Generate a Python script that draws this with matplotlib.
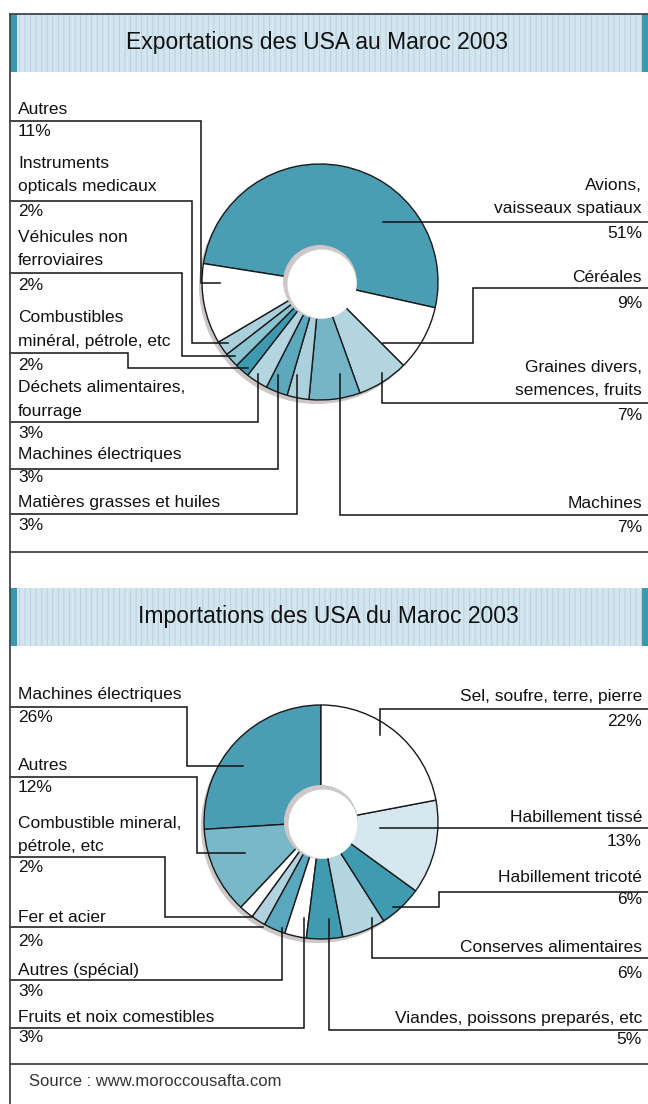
import matplotlib.pyplot as plt
from matplotlib.patches import Rectangle, Circle

plt.rcParams['font.family'] = ['Liberation Sans', 'DejaVu Sans']
plt.rcParams['hatch.linewidth'] = 0.6

# --- data -----------------------------------------------------------------
# Exportations des USA au Maroc 2003, in pie order (clockwise from the left)
exp_labels = ['Avions,\nvaisseaux spatiaux', 'Céréales', 'Graines divers,\nsemences, fruits',
              'Machines', 'Matières grasses et huiles', 'Machines électriques',
              'Déchets alimentaires,\nfourrage', 'Combustibles\nminéral, pétrole, etc',
              'Véhicules non\nferroviaires', 'Instruments\nopticals medicaux', 'Autres']
exp_values = [51, 9, 7, 7, 3, 3, 3, 2, 2, 2, 11]

# Importations des USA du Maroc 2003, in pie order (counter-clockwise from the top)
imp_labels = ['Machines électriques', 'Autres', 'Combustible mineral,\npétrole, etc',
              'Fer et acier', 'Autres (spécial)', 'Fruits et noix comestibles',
              'Viandes, poissons preparés, etc', 'Conserves alimentaires',
              'Habillement tricoté', 'Habillement tissé', 'Sel, soufre, terre, pierre']
imp_values = [26, 12, 2, 2, 3, 3, 5, 6, 6, 13, 22]

exp_title = 'Exportations des USA au Maroc 2003'
imp_title = 'Importations des USA du Maroc 2003'
source = 'Source : www.moroccousafta.com'

# --- styles / layout (pixels, y going down) ---------------------------------
W, H = 648, 1104
DARK, MED, LIGHT, PALE = '#4a9db3', '#74b5c7', '#b3d5e0', '#d6e8ef'

exp_colors = [DARK, 'white', LIGHT, MED, '#a9d0dc', '#5ca9be', LIGHT,
              '#3d99ae', '#8cc3d1', '#a9d0dc', 'white']
imp_colors = [DARK, '#79b8c9', 'white', '#b0d3df', '#5aa8bd', 'white',
              '#3f9bb0', LIGHT, '#3f9bb0', PALE, 'white']

# side, y of first text line, y of percent, leader polyline
exp_layout = [
    ('R', 185, 233, [(648, 222), (383, 222)]),
    ('R', 278, 303, [(648, 288), (473, 288), (473, 343), (383, 343)]),
    ('R', 367, 415, [(648, 403), (382, 403), (382, 373)]),
    ('R', 503, 528, [(648, 515), (340, 515), (340, 374)]),
    ('L', 503, 525, [(10, 514), (297, 514), (297, 375)]),
    ('L', 455, 478, [(10, 469), (278, 469), (278, 375)]),
    ('L', 388, 433, [(10, 422), (258, 422), (258, 374)]),
    ('L', 318, 365, [(10, 353), (128, 353), (128, 368), (248, 368)]),
    ('L', 237, 285, [(10, 273), (182, 273), (182, 356), (235, 356)]),
    ('L', 163, 212, [(10, 201), (192, 201), (192, 343), (228, 343)]),
    ('L', 109, 132, [(10, 121), (201, 121), (201, 283), (220, 283)]),
]
imp_layout = [
    ('L', 695, 718, [(10, 707), (187, 707), (187, 766), (243, 766)]),
    ('L', 765, 788, [(10, 777), (197, 777), (197, 853), (245, 853)]),
    ('L', 823, 868, [(10, 857), (165, 857), (165, 917), (253, 917)]),
    ('L', 917, 942, [(10, 927), (263, 927)]),
    ('L', 970, 992, [(10, 980), (282, 980), (282, 928)]),
    ('L', 1017, 1038, [(10, 1028), (304, 1028), (304, 918)]),
    ('R', 1018, 1040, [(648, 1030), (329, 1030), (329, 919)]),
    ('R', 947, 973, [(648, 958), (372, 958), (372, 918)]),
    ('R', 877, 900, [(648, 892), (439, 892), (439, 907), (393, 907)]),
    ('R', 817, 842, [(648, 828), (380, 828)]),
    ('R', 697, 722, [(648, 709), (380, 709), (380, 735)]),
]

fig = plt.figure(figsize=(W / 100, H / 100), dpi=100)
ax = fig.add_axes([0, 0, 1, 1])


def title_bar(y0, y1, text, tx):
    ax.add_patch(Rectangle((10, y0), W - 10, y1 - y0, fc='#d3e5ee', ec='#b3cfdb',
                           hatch='|||', lw=0, zorder=1))
    ax.add_patch(Rectangle((10, y0), 7, y1 - y0, fc='#3b99ae', lw=0, zorder=2))
    ax.add_patch(Rectangle((642, y0), 6, y1 - y0, fc='#3b99ae', lw=0, zorder=2))
    ax.text(tx, (y0 + y1) / 2, text, fontsize=16.5, ha='center', va='center',
            color='#111', zorder=3)


def donut(values, colors, center, r, r_hole, start, ccw):
    cx, cy = center
    ax.add_patch(Circle((cx - 3, cy + 4), r, fc='#cdc7c7', lw=0, zorder=0.5))
    ax.pie(values, colors=colors, center=center, radius=r, startangle=start,
           counterclock=ccw, wedgeprops=dict(edgecolor='#1a1a1a', linewidth=1.0))
    ax.add_patch(Circle(center, r_hole, fc='#cfc8c8', lw=0, zorder=1.5))
    ax.add_patch(Circle((cx + 2, cy + 2), r_hole - 2.5, fc='white', lw=0, zorder=1.6))


def labels(names, values, layout):
    for name, v, (side, y, yp, path) in zip(names, values, layout):
        x, ha = (18, 'left') if side == 'L' else (642, 'right')
        for i, line in enumerate(name.split('\n')):
            ax.text(x, y + 23.5 * i, line, fontsize=12.5, ha=ha, va='center', color='#111')
        ax.text(x, yp, f'{v}%', fontsize=12.5, ha=ha, va='center', color='#111')
        xs, ys = zip(*path)
        ax.plot(xs, ys, color='#111', lw=1.1, solid_joinstyle='miter', zorder=2)


# visual y points down, so data angles are mirrored
donut(exp_values, exp_colors, (320, 282), 118, 37, -171, True)
donut(imp_values, imp_colors, (321, 822), 117, 37, -90, False)

title_bar(14, 72, exp_title, 317)
title_bar(588, 646, imp_title, 328)

labels(exp_labels, exp_values, exp_layout)
labels(imp_labels, imp_values, imp_layout)

# frame
frame = dict(color='#444', lw=1.3, zorder=4)
ax.plot([10, W], [14, 14], **frame)
ax.plot([10, 10], [14, H], **frame)
ax.plot([10, W], [552, 552], **frame)
ax.plot([10, W], [1064, 1064], **frame)

ax.text(29, 1081, source, fontsize=12, ha='left', va='center', color='#333')

ax.set_xlim(0, W)
ax.set_ylim(H, 0)
ax.set_aspect('auto')
ax.axis('off')

fig.savefig('out.png', dpi=100)
